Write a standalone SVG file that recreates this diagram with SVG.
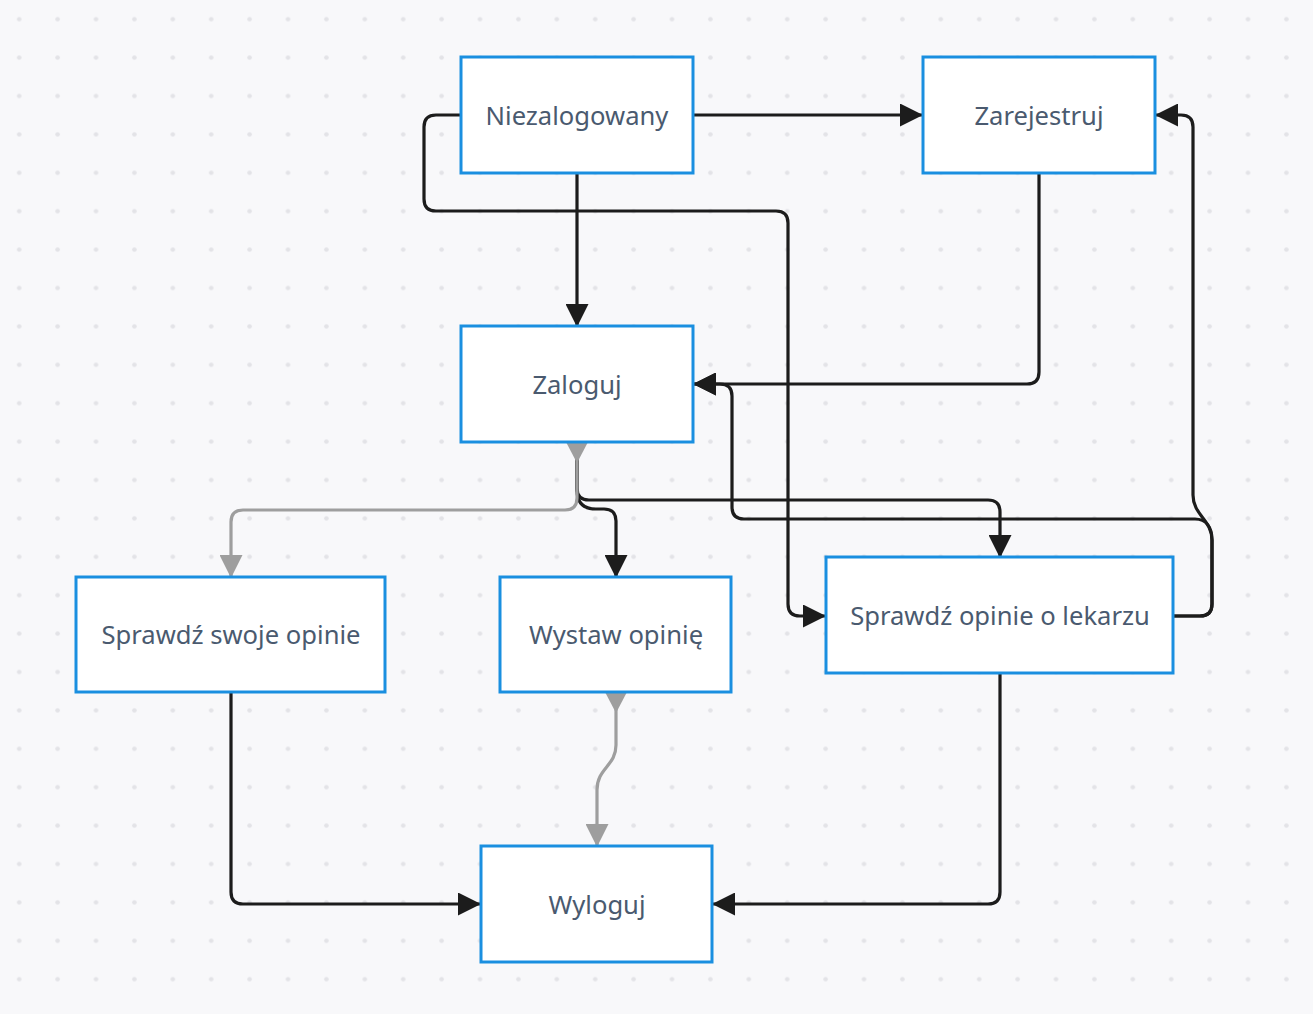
<svg xmlns="http://www.w3.org/2000/svg" width="1313" height="1014" viewBox="0 0 1313 1014">
  <style>
    .node rect { fill: #ffffff; stroke: #1a8fe0; stroke-width: 3; }
    .node text { font-family: "Noto Sans", "Open Sans", "Liberation Sans", sans-serif; font-size: 25.6px; fill: #4a5a6f; text-anchor: middle; dominant-baseline: central; }
    .edge { fill: none; stroke: #1c1c1c; stroke-width: 3.2; }
    .edge.grey { stroke: #9e9e9e; }
  </style>
  <defs>
    <pattern id="dots" x="0" y="0" width="38.4" height="38.4" patternUnits="userSpaceOnUse">
      <circle cx="19.2" cy="19.2" r="2.3" fill="#e3e3e7"/>
    </pattern>
    <marker id="arrow" viewBox="0 0 10 10" refX="10" refY="5" markerUnits="userSpaceOnUse" markerWidth="23" markerHeight="23" orient="auto">
      <path d="M0,0 L10,5 L0,10 z" fill="#1c1c1c"/>
    </marker>
    <marker id="arrow-grey" viewBox="0 0 10 10" refX="10" refY="5" markerUnits="userSpaceOnUse" markerWidth="23" markerHeight="23" orient="auto">
      <path d="M0,0 L10,5 L0,10 z" fill="#9e9e9e"/>
    </marker>
  </defs>

  <!-- canvas -->
  <rect width="1313" height="1014" fill="#f8f8fa"/>
  <rect width="1313" height="1014" fill="url(#dots)"/>

  <!-- connectors -->
  <g id="connectors">
    <!-- Niezalogowany -> Zarejestruj -->
    <path class="edge" d="M693,115 H923" marker-end="url(#arrow)"/>
    <!-- Niezalogowany -> Zaloguj -->
    <path class="edge" d="M577,173 V327" marker-end="url(#arrow)"/>
    <!-- Niezalogowany -> Sprawdź opinie o lekarzu -->
    <path class="edge" d="M461,115 H436 Q424,115 424,127 V199 Q424,211 436,211 H776 Q788,211 788,223 V604 Q788,616 800,616 H826" marker-end="url(#arrow)"/>
    <!-- Zarejestruj -> Zaloguj -->
    <path class="edge" d="M1039,173 V372 Q1039,384 1027,384 H693" marker-end="url(#arrow)"/>
    <!-- Zaloguj -> Sprawdź opinie o lekarzu -->
    <path class="edge" d="M577,442 V488 Q577,500 589,500 H988 Q1000,500 1000,512 V558" marker-end="url(#arrow)"/>
    <!-- Zaloguj -> Wystaw opinię -->
    <path class="edge" d="M577,442 V490 Q577,509 596,509 H604 Q616,509 616,521 V578" marker-end="url(#arrow)"/>
    <!-- Zaloguj -> Sprawdź swoje opinie -->
    <path class="edge grey" d="M577,442 V498 Q577,510 565,510 H243 Q231,510 231,522 V578" marker-end="url(#arrow-grey)"/>
    <path d="M566,442 L588,442 L577,463 z" fill="#9e9e9e"/>
    <!-- Wystaw opinię -> Wyloguj -->
    <path class="edge grey" d="M616,692 V745 C616,766 597,768 597,790 V847" marker-end="url(#arrow-grey)"/>
    <path d="M605,692 L627,692 L616,713 z" fill="#9e9e9e"/>
    <!-- Sprawdź opinie o lekarzu -> Zarejestruj -->
    <path class="edge" d="M1173,616 H1200 Q1212,616 1212,604 V540 C1212,520 1193,515 1193,495 V127 Q1193,115 1181,115 H1155" marker-end="url(#arrow)"/>
    <!-- Sprawdź opinie o lekarzu -> Zaloguj -->
    <path class="edge" d="M1173,616 H1200 Q1212,616 1212,604 V540 C1212,527 1206,519 1195,519 H744 Q732,519 732,507 V396 Q732,384 720,384 H693" marker-end="url(#arrow)"/>
    <!-- Sprawdź swoje opinie -> Wyloguj -->
    <path class="edge" d="M231,692 V892 Q231,904 243,904 H481" marker-end="url(#arrow)"/>
    <!-- Sprawdź opinie o lekarzu -> Wyloguj -->
    <path class="edge" d="M1000,673 V892 Q1000,904 988,904 H712" marker-end="url(#arrow)"/>
  </g>

  <!-- nodes -->
  <g id="niezalogowany" class="node">
    <rect x="461" y="57" width="232" height="116"/>
    <text x="577" y="115">Niezalogowany</text>
  </g>
  <g id="zarejestruj" class="node">
    <rect x="923" y="57" width="232" height="116"/>
    <text x="1039" y="115">Zarejestruj</text>
  </g>
  <g id="zaloguj" class="node">
    <rect x="461" y="326" width="232" height="116"/>
    <text x="577" y="384">Zaloguj</text>
  </g>
  <g id="sprawdz-swoje-opinie" class="node">
    <rect x="76" y="577" width="309" height="115"/>
    <text x="231" y="634">Sprawdź swoje opinie</text>
  </g>
  <g id="wystaw-opinie" class="node">
    <rect x="500" y="577" width="231" height="115"/>
    <text x="616" y="634">Wystaw opinię</text>
  </g>
  <g id="sprawdz-opinie-o-lekarzu" class="node">
    <rect x="826" y="557" width="347" height="116"/>
    <text x="1000" y="615">Sprawdź opinie o lekarzu</text>
  </g>
  <g id="wyloguj" class="node">
    <rect x="481" y="846" width="231" height="116"/>
    <text x="597" y="904">Wyloguj</text>
  </g>
</svg>
